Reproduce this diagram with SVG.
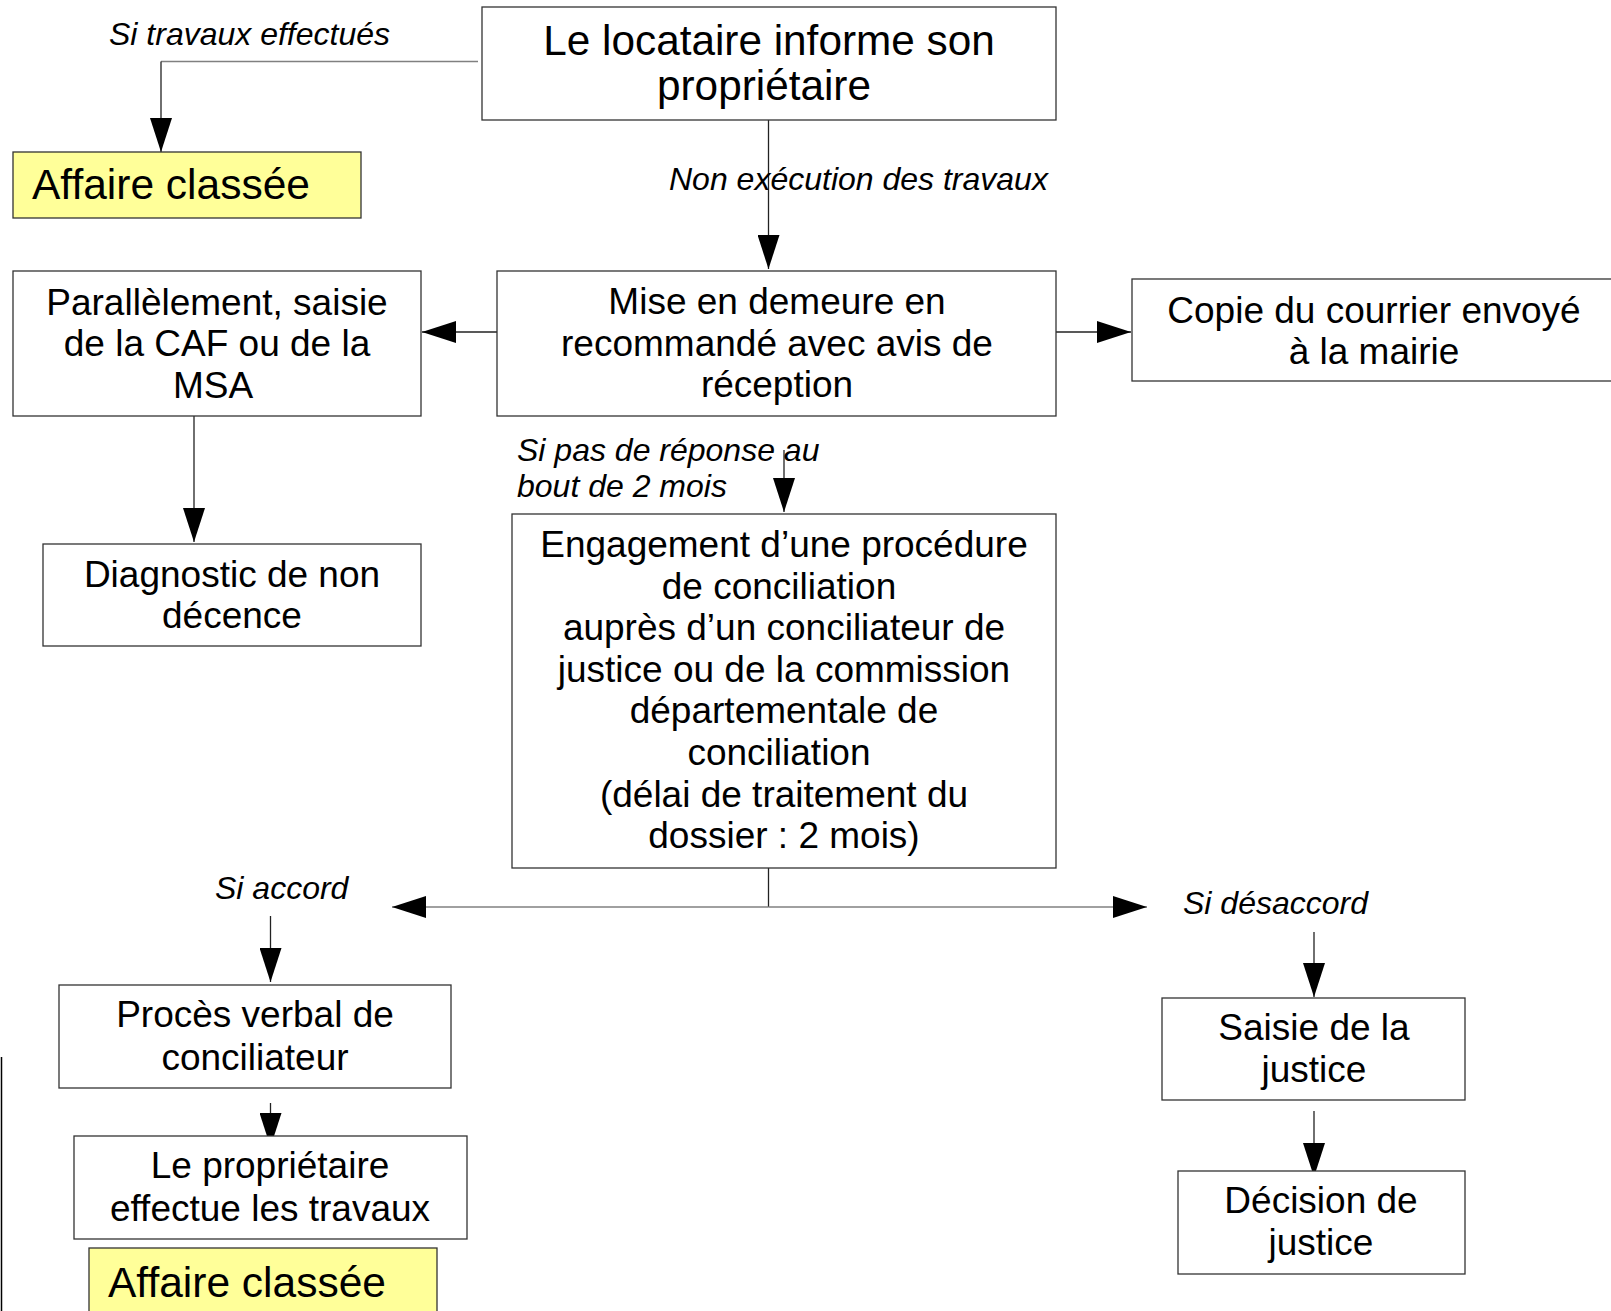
<svg xmlns="http://www.w3.org/2000/svg" width="1611" height="1311" viewBox="0 0 1611 1311">
<defs>
<style>
.box{fill:#ffffff;stroke:#333333;stroke-width:1.3}
.yel{fill:#ffff99;stroke:#333333;stroke-width:1.3}
.t{font-family:"Liberation Sans",Arial,sans-serif;font-size:37px;fill:#000;text-anchor:middle}
.tb{font-family:"Liberation Sans",Arial,sans-serif;font-size:42.3px;fill:#000;text-anchor:middle}
.ty{font-family:"Liberation Sans",Arial,sans-serif;font-size:42.5px;fill:#000}
.lab{font-family:"Liberation Sans",Arial,sans-serif;font-size:32px;font-style:italic;fill:#000}
.c{fill:none;stroke:#222;stroke-width:1.3}
.cg{fill:none;stroke:#808080;stroke-width:1.5}
</style>
<marker id="ah" markerUnits="userSpaceOnUse" markerWidth="34" markerHeight="22" refX="34" refY="11" orient="auto">
<path d="M0,0 L34,11 L0,22 z" fill="#000"/>
</marker>
</defs>
<rect width="1611" height="1311" fill="#ffffff"/>

<g id="connectors">
<path class="cg" d="M478,61.5 H161"/>
<path class="c" d="M161,61.5 V152" marker-end="url(#ah)"/>
<path class="c" d="M768.5,120 V269" marker-end="url(#ah)"/>
<path class="c" d="M497,332 H422" marker-end="url(#ah)"/>
<path class="c" d="M1056,332 H1131" marker-end="url(#ah)"/>
<path class="c" d="M194,416 V542" marker-end="url(#ah)"/>
<path class="c" d="M784,450 V512" marker-end="url(#ah)"/>
<path class="c" d="M768.5,868 V907"/>
<path class="cg" d="M768.5,907 H392" marker-end="url(#ah)"/>
<path class="cg" d="M768.5,907 H1147" marker-end="url(#ah)"/>
<path class="c" d="M270.5,916 V982" marker-end="url(#ah)"/>
<path class="c" d="M270.5,1103 V1147" marker-end="url(#ah)"/>
<path class="c" d="M1314,932 V997" marker-end="url(#ah)"/>
<path class="c" d="M1314,1111 V1177" marker-end="url(#ah)"/>
<line x1="1.5" y1="1057" x2="1.5" y2="1311" stroke="#000" stroke-width="1.5"/>
</g>

<g id="labels">
<text class="lab" x="109" y="45">Si travaux effectués</text>
<text class="lab" x="669" y="190">Non exécution des travaux</text>
<text class="lab" x="517" y="461">Si pas de réponse au</text>
<text class="lab" x="517" y="497">bout de 2 mois</text>
<text class="lab" x="215" y="899">Si accord</text>
<text class="lab" x="1183" y="914">Si désaccord</text>
</g>

<g id="n-locataire">
<rect class="box" x="482" y="7" width="574" height="113"/>
<text class="tb" x="769" y="55">Le locataire informe son</text>
<text class="tb" x="764" y="100">propriétaire</text>
</g>

<g id="n-affaire1">
<rect class="yel" x="13" y="152" width="348" height="66"/>
<text class="ty" x="32" y="199">Affaire classée</text>
</g>

<g id="n-mise">
<rect class="box" x="497" y="271" width="559" height="145"/>
<text class="t" x="777" y="314">Mise en demeure en</text>
<text class="t" x="777" y="356">recommandé avec avis de</text>
<text class="t" x="777" y="397">réception</text>
</g>

<g id="n-parallelement">
<rect class="box" x="13" y="271" width="408" height="145"/>
<text class="t" x="217" y="315">Parallèlement, saisie</text>
<text class="t" x="217" y="356">de la CAF ou de la</text>
<text class="t" x="213" y="398">MSA</text>
</g>

<g id="n-copie">
<rect class="box" x="1132" y="279" width="485" height="102"/>
<text class="t" x="1374" y="323">Copie du courrier envoyé</text>
<text class="t" x="1374" y="364">à la mairie</text>
</g>

<g id="n-diagnostic">
<rect class="box" x="43" y="544" width="378" height="102"/>
<text class="t" x="232" y="587">Diagnostic de non</text>
<text class="t" x="232" y="628">décence</text>
</g>

<g id="n-engagement">
<rect class="box" x="512" y="514" width="544" height="354"/>
<text class="t" x="784" y="557">Engagement d’une procédure</text>
<text class="t" x="779" y="599">de conciliation</text>
<text class="t" x="784" y="640">auprès d’un conciliateur de</text>
<text class="t" x="784" y="682">justice ou de la commission</text>
<text class="t" x="784" y="723">départementale de</text>
<text class="t" x="779" y="765">conciliation</text>
<text class="t" x="784" y="807">(délai de traitement du</text>
<text class="t" x="784" y="848">dossier : 2 mois)</text>
</g>

<g id="n-proces">
<rect class="box" x="59" y="985" width="392" height="103"/>
<text class="t" x="255" y="1027">Procès verbal de</text>
<text class="t" x="255" y="1070">conciliateur</text>
</g>

<g id="n-proprietaire">
<rect class="box" x="74" y="1136" width="393" height="103"/>
<text class="t" x="270" y="1178">Le propriétaire</text>
<text class="t" x="270" y="1221">effectue les travaux</text>
</g>

<g id="n-affaire2">
<rect class="yel" x="89" y="1248" width="348" height="70"/>
<text class="ty" x="108" y="1297">Affaire classée</text>
</g>

<g id="n-saisie">
<rect class="box" x="1162" y="998" width="303" height="102"/>
<text class="t" x="1314" y="1040">Saisie de la</text>
<text class="t" x="1314" y="1082">justice</text>
</g>

<g id="n-decision">
<rect class="box" x="1178" y="1171" width="287" height="103"/>
<text class="t" x="1321" y="1213">Décision de</text>
<text class="t" x="1321" y="1255">justice</text>
</g>
</svg>
